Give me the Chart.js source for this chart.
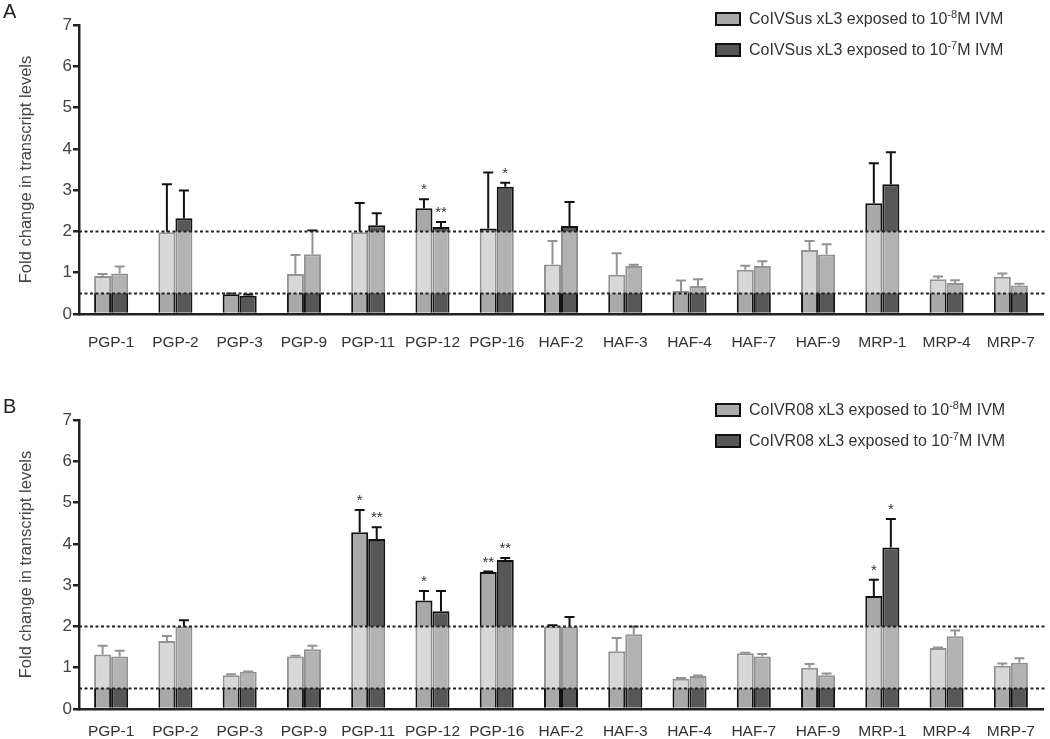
<!DOCTYPE html>
<html>
<head>
<meta charset="utf-8">
<script src="https://cdn.jsdelivr.net/npm/chart.js@4.4.1/dist/chart.umd.min.js"></script>
<style>
    body { margin: 0; background: #fff; font-family: "Liberation Sans", Arial, sans-serif; }
    #page { position: relative; width: 1050px; height: 739px; overflow: hidden; }
    .panel { position: absolute; left: 0; width: 1050px; }
    .letter { position: absolute; left: 3px; font-size: 20px; color: #222; }
    .key { position: absolute; left: 715px; font-size: 16px; color: #333; white-space: nowrap; }
    .key .box { position: absolute; left: 0; width: 22px; height: 10px; border: 2px solid #111; }
    .key .txt { position: absolute; left: 34px; top: -4px; }
    .key sup { font-size: 11px; }
</style>
</head>
<body>
<div id="page">
    <div class="panel" style="top:0;height:360px"><canvas id="panelA"></canvas></div>
    <div class="panel" style="top:370px;height:369px"><canvas id="panelB"></canvas></div>

    <div class="letter" style="top:0px">A</div>
    <div class="letter" style="top:395px">B</div>

    <div class="key" style="top:12px"><span class="box" style="background:#a9a9a9"></span><span class="txt">CoIVSus xL3 exposed to 10<sup>-8</sup>M IVM</span></div>
    <div class="key" style="top:43px"><span class="box" style="background:#575757"></span><span class="txt">CoIVSus xL3 exposed to 10<sup>-7</sup>M IVM</span></div>
    <div class="key" style="top:403px"><span class="box" style="background:#a9a9a9"></span><span class="txt">CoIVR08 xL3 exposed to 10<sup>-8</sup>M IVM</span></div>
    <div class="key" style="top:434px"><span class="box" style="background:#575757"></span><span class="txt">CoIVR08 xL3 exposed to 10<sup>-7</sup>M IVM</span></div>
</div>

<script>
// genes on the x axis
const genes = ['PGP-1', 'PGP-2', 'PGP-3', 'PGP-9', 'PGP-11', 'PGP-12', 'PGP-16',
    'HAF-2', 'HAF-3', 'HAF-4', 'HAF-7', 'HAF-9', 'MRP-1', 'MRP-4', 'MRP-7'];

// panel A - CoIVSus
const susLow = [0.92, 1.98, 0.48, 0.97, 1.98, 2.56, 2.07, 1.20, 0.95, 0.56, 1.07, 1.55, 2.68, 0.84, 0.90];
const susLowErr = [0.05, 1.16, 0.02, 0.46, 0.71, 0.22, 1.36, 0.57, 0.52, 0.25, 0.10, 0.22, 0.97, 0.07, 0.08];
const susHigh = [0.98, 2.32, 0.44, 1.45, 2.15, 2.11, 3.08, 2.13, 1.16, 0.68, 1.16, 1.44, 3.14, 0.75, 0.69];
const susHighErr = [0.17, 0.67, 0.03, 0.57, 0.29, 0.12, 0.10, 0.58, 0.03, 0.16, 0.12, 0.25, 0.78, 0.07, 0.04];
const susLowStars = ['', '', '', '', '', '*', '', '', '', '', '', '', '', '', ''];
const susHighStars = ['', '', '', '', '', '**', '*', '', '', '', '', '', '', '', ''];

// panel B - CoIVR08
const resLow = [1.32, 1.65, 0.82, 1.27, 4.28, 2.63, 3.32, 2.00, 1.40, 0.73, 1.35, 1.00, 2.74, 1.48, 1.05];
const resLowErr = [0.21, 0.12, 0.02, 0.02, 0.54, 0.23, 0.01, 0.03, 0.32, 0.02, 0.01, 0.09, 0.39, 0.01, 0.05];
const resHigh = [1.27, 2.00, 0.90, 1.45, 4.12, 2.37, 3.61, 1.99, 1.81, 0.80, 1.27, 0.82, 3.91, 1.76, 1.12];
const resHighErr = [0.14, 0.15, 0.01, 0.08, 0.28, 0.49, 0.05, 0.24, 0.18, 0.01, 0.06, 0.04, 0.69, 0.14, 0.11];
const resLowStars = ['', '', '', '', '*', '*', '**', '', '', '', '', '', '*', '', ''];
const resHighStars = ['', '', '', '', '**', '', '**', '', '', '', '', '', '*', '', ''];

// cut-offs drawn as dotted lines
const cutoffs = [0.5, 2];
const yTicks = [0, 1, 2, 3, 4, 5, 6, 7];

const FONT = '"Liberation Sans", Arial, sans-serif';

// error bars, faded band between the cut-offs, dotted lines, asterisks
const markings = {
    id: 'markings',
    afterDatasetsDraw(chart, args, opts) {
        const ctx = chart.ctx;
        const y = chart.scales.y;
        const area = chart.chartArea;
        ctx.save();

        // error bars (upper half only)
        ctx.strokeStyle = '#111';
        ctx.lineWidth = 2;
        chart.data.datasets.forEach((ds, i) => {
            chart.getDatasetMeta(i).data.forEach((bar, j) => {
                const top = y.getPixelForValue(ds.data[j] + opts.errors[i][j]);
                ctx.beginPath();
                ctx.moveTo(bar.x, bar.y);
                ctx.lineTo(bar.x, top);
                ctx.moveTo(bar.x - 5, top);
                ctx.lineTo(bar.x + 5, top);
                ctx.stroke();
            });
        });

        // white wash between 0.5 and 2
        const yLo = y.getPixelForValue(cutoffs[0]);
        const yHi = y.getPixelForValue(cutoffs[1]);
        ctx.fillStyle = 'rgba(255,255,255,0.55)';
        ctx.fillRect(area.left + 1.5, yHi, area.right - area.left, yLo - yHi);

        // dotted cut-off lines
        ctx.strokeStyle = '#222';
        ctx.setLineDash([3, 2.5]);
        cutoffs.forEach(c => {
            const py = Math.round(y.getPixelForValue(c)) + 0.5;
            ctx.beginPath();
            ctx.moveTo(area.left, py);
            ctx.lineTo(area.right + 3, py);
            ctx.stroke();
        });
        ctx.setLineDash([]);

        // significance asterisks
        ctx.fillStyle = '#333';
        ctx.font = '15px ' + FONT;
        ctx.textAlign = 'center';
        ctx.textBaseline = 'alphabetic';
        chart.data.datasets.forEach((ds, i) => {
            chart.getDatasetMeta(i).data.forEach((bar, j) => {
                const s = opts.stars[i][j];
                if (!s) return;
                const top = y.getPixelForValue(ds.data[j] + opts.errors[i][j]);
                ctx.fillText(s, bar.x, top - 5);
            });
        });
        ctx.restore();
    }
};

const makePanel = (id, low, lowErr, high, highErr, lowStars, highStars, pad) => {
    return new Chart(document.getElementById(id), {
        type: 'bar',
        data: {
            labels: genes,
            datasets: [{
                data: low,
                backgroundColor: '#a9a9a9',
                borderColor: '#111',
                borderWidth: 2,
                borderSkipped: 'start',
                barPercentage: 1,
                categoryPercentage: 0.53
            }, {
                data: high,
                backgroundColor: '#575757',
                borderColor: '#111',
                borderWidth: 2,
                borderSkipped: 'start',
                barPercentage: 1,
                categoryPercentage: 0.53
            }]
        },
        options: {
            responsive: true,
            maintainAspectRatio: false,
            animation: false,
            layout: { padding: { top: pad.top, right: 7, left: 0, bottom: 0 } },
            plugins: {
                legend: { display: false },
                tooltip: { enabled: false },
                markings: { errors: [lowErr, highErr], stars: [lowStars, highStars] }
            },
            scales: {
                x: {
                    grid: { display: false },
                    border: { display: true, color: '#222', width: 2.5 },
                    ticks: { color: '#333', font: { size: 15.5, family: FONT }, padding: pad.label, maxRotation: 0 },
                    afterFit: s => { s.height = pad.xh; }
                },
                y: {
                    min: 0,
                    max: 7,
                    afterBuildTicks: s => { s.ticks = yTicks.map(v => ({ value: v })); },
                    grid: { drawOnChartArea: false, drawTicks: true, tickLength: 6, tickColor: '#222', tickWidth: 2.5, lineWidth: 2.5 },
                    border: { display: true, color: '#222', width: 2.5 },
                    ticks: { color: '#444', font: { size: 17, family: FONT }, padding: 1 },
                    title: {
                        display: true,
                        text: 'Fold change in transcript levels',
                        color: '#444',
                        font: { size: 16.5, family: FONT },
                        padding: { top: 17, bottom: 0 }
                    },
                    afterFit: s => { s.width = 79; }
                }
            }
        },
        plugins: [markings]
    });
};

makePanel('panelA', susLow, susLowErr, susHigh, susHighErr, susLowStars, susHighStars, { top: 25, xh: 46, label: 11 });
makePanel('panelB', resLow, resLowErr, resHigh, resHighErr, resLowStars, resHighStars, { top: 50, xh: 30, label: 5 });
</script>
</body>
</html>
